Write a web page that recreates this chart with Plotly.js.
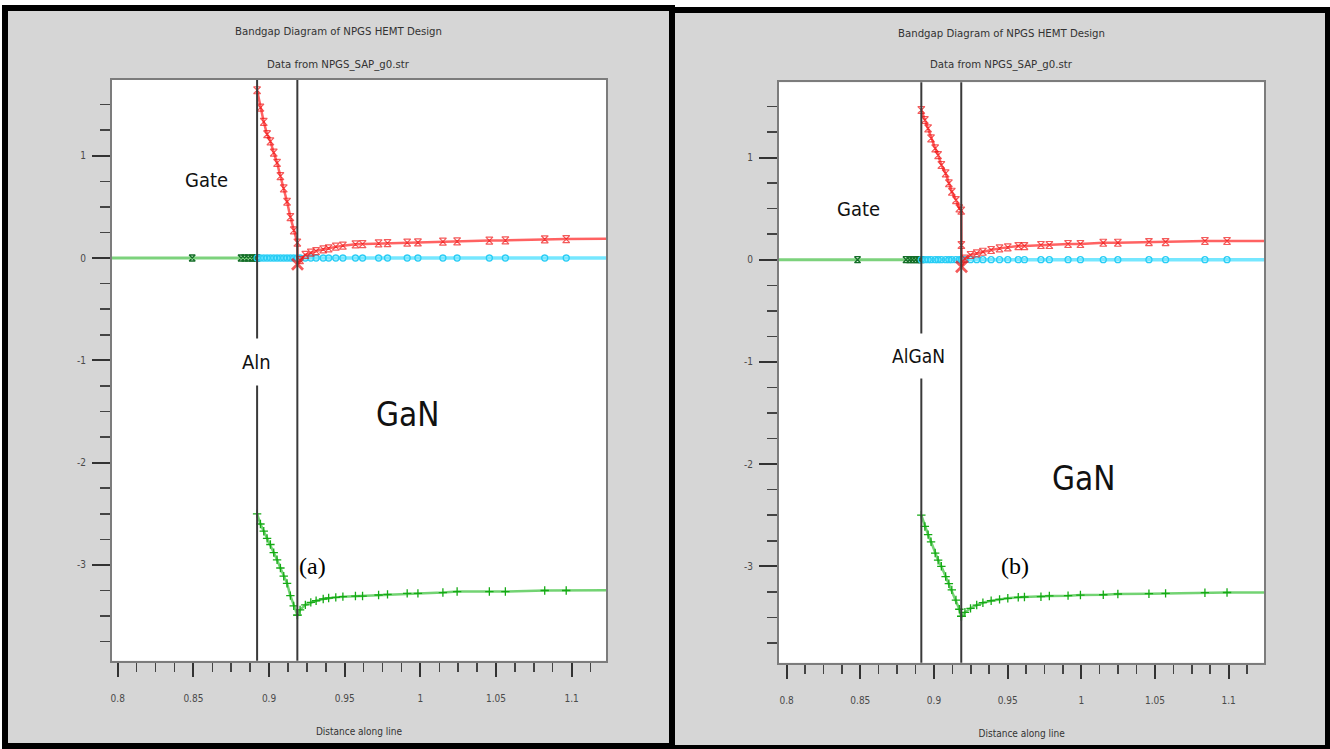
<!DOCTYPE html>
<html>
<head>
<meta charset="utf-8">
<script src="https://cdn.plot.ly/plotly-3.0.1.min.js"></script>
<style>html,body{margin:0;padding:0;background:#fff;}#chart{width:1330px;height:749px;}</style>
</head>
<body>
<div id="chart"></div>
<script>
// ---------------- DATA ----------------
// Panel (a): AlN barrier
const boundaries_a = [0.8921, 0.9187];
const gateX_a = [0.78, 0.8492, 0.8815, 0.8839, 0.8862, 0.8886, 0.8903, 0.8921];
const gateY_a = [0, 0, 0, 0, 0, 0, 0, 0];
const barrierX_a = [0.8921, 0.8943, 0.8965, 0.8987, 0.9009, 0.9031, 0.9053, 0.9075, 0.9097, 0.9119, 0.9141, 0.9163, 0.9187];
const cbBarrier_a = [1.64, 1.47, 1.33, 1.21, 1.14, 1.03, 0.93, 0.80, 0.68, 0.55, 0.40, 0.27, 0.15];
const vbBarrier_a = [-2.50, -2.60, -2.67, -2.74, -2.80, -2.88, -2.95, -3.03, -3.11, -3.18, -3.30, -3.40, -3.49];
const ganX_a = [0.9188, 0.9205, 0.9240, 0.9276, 0.9311, 0.9358, 0.9394, 0.9441, 0.9488, 0.9571, 0.9618, 0.9724, 0.9783, 0.9913, 0.9984, 1.0149, 1.0243, 1.0456, 1.0562, 1.0822, 1.0964, 1.15];
const cbGaN_a = [-0.06, -0.02, 0.03, 0.052, 0.068, 0.085, 0.095, 0.111, 0.121, 0.134, 0.136, 0.143, 0.145, 0.150, 0.152, 0.160, 0.162, 0.170, 0.172, 0.183, 0.185, 0.19];
const vbGaN_a = [-3.49, -3.44, -3.39, -3.366, -3.35, -3.333, -3.323, -3.317, -3.31, -3.304, -3.304, -3.294, -3.288, -3.278, -3.278, -3.27, -3.26, -3.26, -3.26, -3.25, -3.25, -3.245];

// Panel (b): AlGaN barrier
const boundaries_b = [0.8914, 0.9185];
const gateX_b = [0.78, 0.8481, 0.8810, 0.8834, 0.8853, 0.8876, 0.8895, 0.8914];
const gateY_b = [0, 0, 0, 0, 0, 0, 0, 0];
const barrierX_b = [0.8914, 0.8938, 0.8960, 0.8980, 0.9008, 0.9028, 0.9050, 0.9079, 0.9101, 0.9121, 0.9149, 0.9172, 0.9185];
const cbBarrier_b = [1.465, 1.367, 1.285, 1.188, 1.09, 1.024, 0.927, 0.845, 0.748, 0.665, 0.584, 0.503, 0.48];
const vbBarrier_b = [-2.50, -2.61, -2.69, -2.76, -2.87, -2.94, -3.00, -3.10, -3.17, -3.23, -3.33, -3.42, -3.49];
const ganX_b = [0.9186, 0.9187, 0.9210, 0.9248, 0.9290, 0.9332, 0.9388, 0.9445, 0.9501, 0.9572, 0.9614, 0.9726, 0.9783, 0.9910, 0.9994, 1.0149, 1.0248, 1.0459, 1.0572, 1.0839, 1.0989, 1.15];
const cbGaN_b = [0.144, -0.068, 0.01, 0.046, 0.062, 0.078, 0.095, 0.111, 0.121, 0.134, 0.134, 0.144, 0.144, 0.154, 0.154, 0.166, 0.166, 0.173, 0.173, 0.183, 0.183, 0.185];
const vbGaN_b = [-3.49, -3.49, -3.45, -3.411, -3.379, -3.356, -3.337, -3.323, -3.313, -3.303, -3.30, -3.297, -3.29, -3.287, -3.281, -3.278, -3.271, -3.268, -3.265, -3.258, -3.256, -3.255];

// Tick labels and texts
const xTickVals = [0.8, 0.85, 0.9, 0.95, 1, 1.05, 1.1];
const xTickText = ['0.8', '0.85', '0.9', '0.95', '1', '1.05', '1.1'];
const yTickVals = [1, 0, -1, -2, -3];
const yTickText = ['1', '0', '-1', '-2', '-3'];
const titleLine1 = 'Bandgap Diagram of NPGS HEMT Design';
const titleLine2 = 'Data from NPGS_SAP_g0.str';
const xTitle = 'Distance along line';
const regionLabels_a = ['Gate', 'Aln', 'GaN', '(a)'];
const regionLabels_b = ['Gate', 'AlGaN', 'GaN', '(b)'];

// ---------------- BUILD ----------------
const W = 1330, H = 749;
const px = v => v / W;
const py = v => 1 - v / H;
const narrow = '"Liberation Sans Narrow", "DejaVu Sans Condensed", Arial, sans-serif';

const RED_LINE = 'rgba(255,70,70,0.85)';
const RED_MK = 'rgb(240,20,20)';
const GREEN_LINE = 'rgba(80,200,80,0.8)';
const GREEN_MK = 'rgb(20,170,20)';
const GATE_LINE = 'rgba(110,205,110,0.9)';
const GATE_MK = 'rgb(20,110,40)';
const CYAN_LINE = 'rgba(110,230,255,0.95)';
const CYAN_MK = 'rgb(40,205,245)';

function panelTraces(gateX, gateY, barrierX, cbBar, vbBar, ganX, cbGaN, vbGaN, xa, ya) {
  const cbX = barrierX.concat(ganX);
  const cbY = cbBar.concat(cbGaN);
  const vbX = barrierX.concat(ganX);
  const vbY = vbBar.concat(vbGaN);
  const fermiX = barrierX.concat(ganX.filter((v, i) => i > 0));
  const fermiY = fermiX.map(() => 0);
  const dipIdx = cbY.indexOf(Math.min.apply(null, cbY));
  const cbSizes = cbY.map((v, i) => (i === dipIdx ? 11 : 7));
  const cbWidths = cbY.map((v, i) => (i === dipIdx ? 2.8 : 1.2));
  const cbSymbols = cbY.map((v, i) => (i === dipIdx ? 'x-thin-open' : 'hourglass-open'));
  return [
    {x: gateX, y: gateY, xaxis: xa, yaxis: ya, mode: 'lines+markers', type: 'scatter',
     line: {color: GATE_LINE, width: 3},
     marker: {symbol: 'hourglass-open', size: 6, color: GATE_MK, line: {width: 1.3, color: GATE_MK}},
     showlegend: false},
    {x: fermiX, y: fermiY, xaxis: xa, yaxis: ya, mode: 'lines+markers', type: 'scatter',
     line: {color: CYAN_LINE, width: 3.5},
     marker: {symbol: 'circle-open', size: 6, color: CYAN_MK, line: {width: 1.3, color: CYAN_MK}},
     showlegend: false},
    {x: vbX, y: vbY, xaxis: xa, yaxis: ya, mode: 'lines+markers', type: 'scatter',
     line: {color: GREEN_LINE, width: 2.5},
     marker: {symbol: 'cross-thin-open', size: 6, color: GREEN_MK, line: {width: 1.3, color: GREEN_MK}},
     showlegend: false},
    {x: cbX, y: cbY, xaxis: xa, yaxis: ya, mode: 'lines+markers', type: 'scatter',
     line: {color: RED_LINE, width: 2.5},
     marker: {symbol: cbSymbols, size: cbSizes, color: RED_MK, line: {width: cbWidths, color: RED_MK}},
     showlegend: false}
  ];
}

const data = panelTraces(gateX_a, gateY_a, barrierX_a, cbBarrier_a, vbBarrier_a, ganX_a, cbGaN_a, vbGaN_a, 'x', 'y')
  .concat(panelTraces(gateX_b, gateY_b, barrierX_b, cbBarrier_b, vbBarrier_b, ganX_b, cbGaN_b, vbGaN_b, 'x2', 'y2'));

function xAxis(domain, range, anchor) {
  return {
    domain: domain, range: range, anchor: anchor,
    showgrid: false, zeroline: false,
    showline: true, mirror: true, linecolor: '#7c7c7c', linewidth: 2,
    ticks: 'outside', ticklen: 14, tickwidth: 2, tickcolor: '#333',
    tickmode: 'array', tickvals: xTickVals, ticktext: xTickText,
    ticklabelstandoff: 13,
    minor: {tickmode: 'linear', tick0: 0.8, dtick: 0.0125, ticks: 'outside', ticklen: 9, tickwidth: 1.5, tickcolor: '#444', showgrid: false},
    tickfont: {family: narrow, size: 10, color: '#4a4a4a'},
    title: {text: xTitle, font: {family: narrow, size: 10, color: '#333'}, standoff: 25},
    fixedrange: true
  };
}
function yAxis(domain, range, anchor) {
  return {
    domain: domain, range: range, anchor: anchor,
    showgrid: false, zeroline: false,
    showline: true, mirror: true, linecolor: '#7c7c7c', linewidth: 2,
    ticks: 'outside', ticklen: 18, tickwidth: 2, tickcolor: '#333',
    tickmode: 'array', tickvals: yTickVals, ticktext: yTickText,
    ticklabelstandoff: 4,
    minor: {tickmode: 'linear', tick0: 0, dtick: 0.25, ticks: 'outside', ticklen: 10, tickwidth: 1.5, tickcolor: '#444', showgrid: false},
    tickfont: {family: narrow, size: 10, color: '#4a4a4a'},
    fixedrange: true
  };
}

const shapes = [
  {type: 'rect', xref: 'paper', yref: 'paper', x0: px(5), x1: px(672), y0: py(746), y1: py(8),
   fillcolor: '#d6d6d6', line: {color: '#000', width: 6}, layer: 'below'},
  {type: 'rect', xref: 'paper', yref: 'paper', x0: px(672), x1: px(1328), y0: py(748), y1: py(10),
   fillcolor: '#d6d6d6', line: {color: '#000', width: 6}, layer: 'below'},
  {type: 'rect', xref: 'x domain', yref: 'y domain', x0: 0, x1: 1, y0: 0, y1: 1,
   fillcolor: '#ffffff', line: {width: 0}, layer: 'below'},
  {type: 'rect', xref: 'x2 domain', yref: 'y2 domain', x0: 0, x1: 1, y0: 0, y1: 1,
   fillcolor: '#ffffff', line: {width: 0}, layer: 'below'}
];
boundaries_a.forEach(b => shapes.push({type: 'line', xref: 'x', yref: 'y domain', x0: b, x1: b, y0: 0, y1: 1,
  line: {color: '#3a3a3a', width: 2}, layer: 'above'}));
boundaries_b.forEach(b => shapes.push({type: 'line', xref: 'x2', yref: 'y2 domain', x0: b, x1: b, y0: 0, y1: 1,
  line: {color: '#3a3a3a', width: 2}, layer: 'above'}));

const labelFont = s => ({family: narrow, size: s, color: '#111'});
const serif = '"Liberation Serif", "Times New Roman", serif';
function ann(text, x, y, font, extra) {
  return Object.assign({text: text, xref: 'paper', yref: 'paper', x: px(x), y: py(y),
    xanchor: 'center', yanchor: 'middle', showarrow: false, font: font}, extra || {});
}
const titleFont = {family: narrow, size: 11.3, color: '#333'};
const annotations = [
  ann(titleLine1, 338, 32, titleFont),
  ann(titleLine2, 338, 64, titleFont),
  ann(titleLine1, 1002, 34, titleFont),
  ann(titleLine2, 1002, 64, titleFont),
  ann(regionLabels_a[0], 206, 180, labelFont(20)),
  ann(regionLabels_a[1], 256, 362, labelFont(20), {bgcolor: '#fff', borderpad: 11}),
  ann(regionLabels_a[2], 407, 414, labelFont(33)),
  ann(regionLabels_a[3], 312, 566, {family: serif, size: 24, color: '#000'}),
  ann(regionLabels_b[0], 858, 209, labelFont(20)),
  ann(regionLabels_b[1], 918, 356, labelFont(19), {bgcolor: '#fff', borderpad: 11}),
  ann(regionLabels_b[2], 1083, 478, labelFont(33)),
  ann(regionLabels_b[3], 1015, 566, {family: serif, size: 24, color: '#000'})
];

const layout = {
  width: W, height: H,
  margin: {l: 0, r: 0, t: 0, b: 0},
  paper_bgcolor: '#ffffff', plot_bgcolor: 'rgba(0,0,0,0)',
  showlegend: false,
  xaxis: xAxis([px(112), px(606)], [0.7962, 1.1227], 'y'),
  yaxis: yAxis([py(660.7), py(80)], [-3.936, 1.740], 'x'),
  xaxis2: xAxis([px(779), px(1264.3)], [0.7948, 1.1242], 'y2'),
  yaxis2: yAxis([py(662.7), py(82.3)], [-3.943, 1.736], 'x2'),
  shapes: shapes,
  annotations: annotations
};

Plotly.newPlot('chart', data, layout, {staticPlot: true, displayModeBar: false});
</script>
</body>
</html>
